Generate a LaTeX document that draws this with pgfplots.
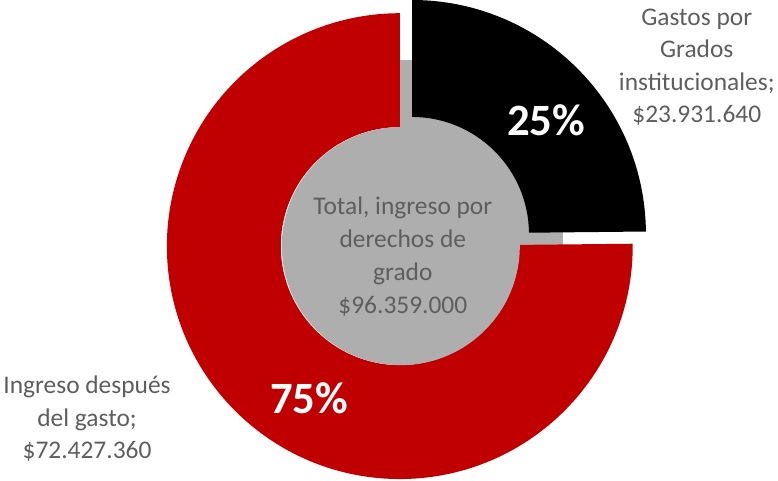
\documentclass[border=0pt]{standalone}
\usepackage{pgfplots}
\pgfplotsset{compat=1.18}
\usepackage{pgfplotstable}
\usepackage{fontspec}
\setmainfont{Carlito}
\usetikzlibrary{calc}
\definecolor{redc}{HTML}{C00000}
\definecolor{greyc}{HTML}{AEAEAE}
\definecolor{txtc}{HTML}{5E5E5E}
\pgfplotstableread[col sep=comma]{
label,value
Gastos,23931640
Ingreso,72427360
}\datatable
\pgfplotstablegetelem{0}{value}\of\datatable \let\vA\pgfplotsretval
\pgfplotstablegetelem{1}{value}\of\datatable \let\vB\pgfplotsretval
\edef\angA{\fpeval{360*\vA/(\vA+\vB)}}
\edef\be{\fpeval{90-\angA}}
\begin{document}
\begin{tikzpicture}
\begin{axis}[width=778pt,height=480pt,scale only axis,
  xmin=0,xmax=778,ymin=0,ymax=480,hide axis,clip=false]
\coordinate (R) at (axis cs:405,230);
\coordinate (B) at (axis cs:417,242);
% grey background visible in the gaps
\fill[greyc] (axis cs:400,231) rectangle (axis cs:565,413);
% red slice (Ingreso despues del gasto)
\fill[redc] ($(R)+(\be:229)$) arc[start angle=\be, end angle=-270, radius=229]
  -- ($(R)+(90:117)$) arc[start angle=-270, end angle=\be, radius=117] -- cycle;
% black slice (Gastos), exploded
\fill[black] ($(B)+(90:230)$) arc[start angle=90, end angle=\be, radius=230]
  -- ($(B)+(\be:115)$) arc[start angle=\be, end angle=90, radius=115] -- cycle;
% centre disk
\fill[greyc] (axis cs:406,230) circle[radius=117];
\node[font=\fontsize{25}{32.5}\selectfont, text=txtc, align=center]
  at (axis cs:408,220) {Total, ingreso por\\derechos de\\grado\\\$96.359.000};
\node[font=\bfseries\fontsize{44}{44}\selectfont, text=white]
  at (axis cs:549,354) {25\%};
\node[font=\bfseries\fontsize{44}{44}\selectfont, text=white]
  at (axis cs:316,80) {75\%};
\node[font=\fontsize{25}{32}\selectfont, text=txtc, align=center]
  at (axis cs:697,406) {Gastos por\\Grados\\institucionales;\\\$23.931.640};
\node[font=\fontsize{25}{32}\selectfont, text=txtc, align=center]
  at (axis cs:97.5,60) {Ingreso después\\del gasto;\\\$72.427.360};
\end{axis}
\end{tikzpicture}
\end{document}
